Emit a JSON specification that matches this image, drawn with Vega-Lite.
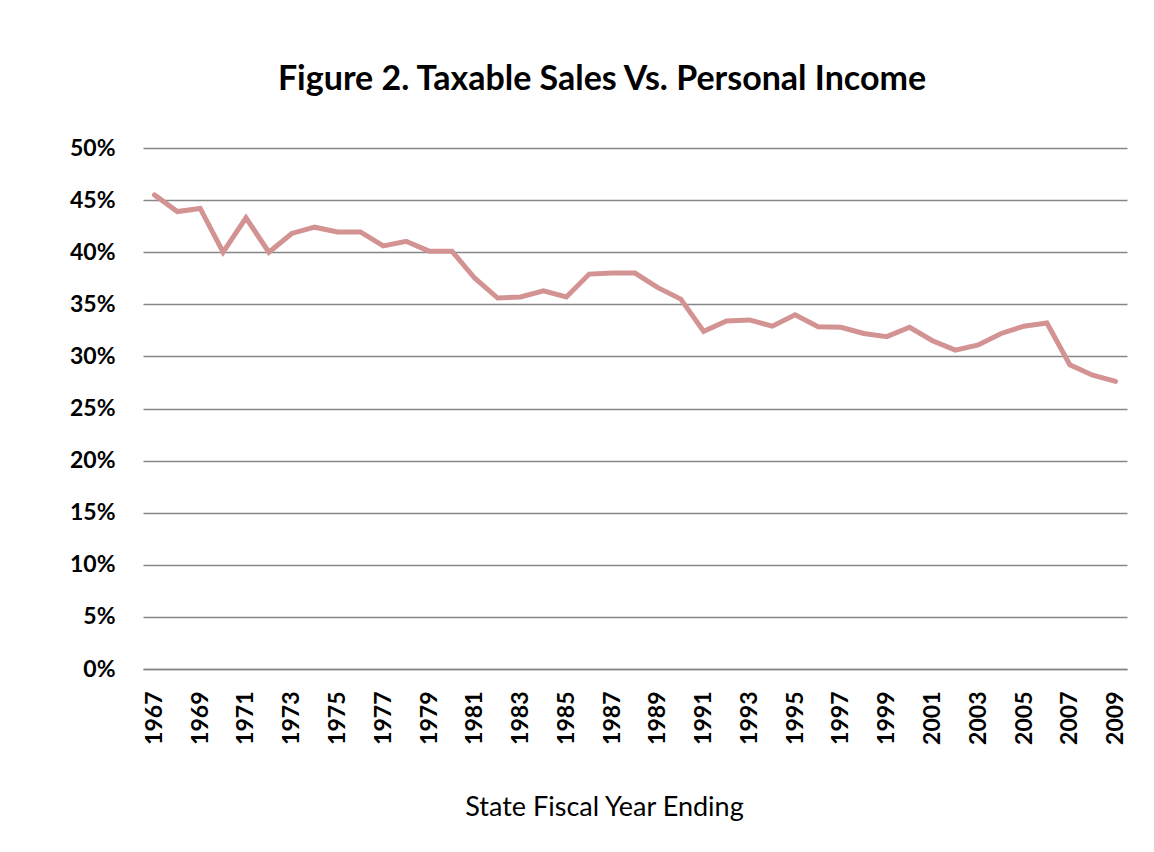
{
  "$schema": "https://vega.github.io/schema/vega-lite/v6.json",
  "autosize": {"type": "none"},
  "width": 984,
  "height": 521,
  "padding": {"left": 143, "top": 148, "right": 27, "bottom": 183},
  "background": "white",
  "title": {
    "text": "Figure 2. Taxable Sales Vs. Personal Income",
    "font": "Lato",
    "fontSize": 34,
    "fontWeight": "bold",
    "color": "#000000",
    "anchor": "middle",
    "dx": -33,
    "baseline": "alphabetic",
    "offset": 13
  },
  "data": {
    "values": [
      {"year": 1967, "share": 0.455},
      {"year": 1968, "share": 0.439},
      {"year": 1969, "share": 0.442},
      {"year": 1970, "share": 0.400},
      {"year": 1971, "share": 0.433},
      {"year": 1972, "share": 0.400},
      {"year": 1973, "share": 0.418},
      {"year": 1974, "share": 0.424},
      {"year": 1975, "share": 0.4195},
      {"year": 1976, "share": 0.4195},
      {"year": 1977, "share": 0.406},
      {"year": 1978, "share": 0.4105},
      {"year": 1979, "share": 0.401},
      {"year": 1980, "share": 0.401},
      {"year": 1981, "share": 0.375},
      {"year": 1982, "share": 0.356},
      {"year": 1983, "share": 0.357},
      {"year": 1984, "share": 0.363},
      {"year": 1985, "share": 0.357},
      {"year": 1986, "share": 0.379},
      {"year": 1987, "share": 0.380},
      {"year": 1988, "share": 0.380},
      {"year": 1989, "share": 0.366},
      {"year": 1990, "share": 0.355},
      {"year": 1991, "share": 0.324},
      {"year": 1992, "share": 0.334},
      {"year": 1993, "share": 0.335},
      {"year": 1994, "share": 0.329},
      {"year": 1995, "share": 0.340},
      {"year": 1996, "share": 0.3285},
      {"year": 1997, "share": 0.328},
      {"year": 1998, "share": 0.322},
      {"year": 1999, "share": 0.319},
      {"year": 2000, "share": 0.328},
      {"year": 2001, "share": 0.315},
      {"year": 2002, "share": 0.306},
      {"year": 2003, "share": 0.311},
      {"year": 2004, "share": 0.322},
      {"year": 2005, "share": 0.329},
      {"year": 2006, "share": 0.332},
      {"year": 2007, "share": 0.292},
      {"year": 2008, "share": 0.282},
      {"year": 2009, "share": 0.276}
    ]
  },
  "mark": {"type": "line", "color": "#d39392", "strokeWidth": 5, "strokeJoin": "miter", "strokeCap": "round"},
  "encoding": {
    "x": {
      "field": "year",
      "type": "ordinal",
      "scale": {"type": "point", "padding": 0.5},
      "axis": {
        "title": "State Fiscal Year Ending",
        "titleFont": "Lato",
        "titleFontSize": 27,
        "titleFontWeight": "normal",
        "titleColor": "#000000",
        "titleX": 461,
        "titleY": 146,
        "titleBaseline": "alphabetic",
        "labelExpr": "datum.value % 2 == 1 ? datum.label : ''",
        "labelAngle": 270,
        "labelAlign": "right",
        "labelBaseline": "middle",
        "labelFont": "Lato",
        "labelFontSize": 23,
        "labelFontWeight": "bold",
        "labelColor": "#000000",
        "labelPadding": 22,
        "labelOverlap": false,
        "ticks": false,
        "domain": true,
        "domainColor": "#868686",
        "domainWidth": 1.3,
        "grid": false
      }
    },
    "y": {
      "field": "share",
      "type": "quantitative",
      "scale": {"domain": [0, 0.5], "nice": false, "zero": true},
      "axis": {
        "title": null,
        "values": [0, 0.05, 0.1, 0.15, 0.2, 0.25, 0.3, 0.35, 0.4, 0.45, 0.5],
        "format": ".0%",
        "labelFont": "Lato",
        "labelFontSize": 23,
        "labelFontWeight": "bold",
        "labelColor": "#000000",
        "labelPadding": 28,
        "ticks": false,
        "domain": false,
        "grid": true,
        "gridColor": "#868686",
        "gridWidth": 1.3
      }
    }
  },
  "config": {"view": {"stroke": null}}
}
